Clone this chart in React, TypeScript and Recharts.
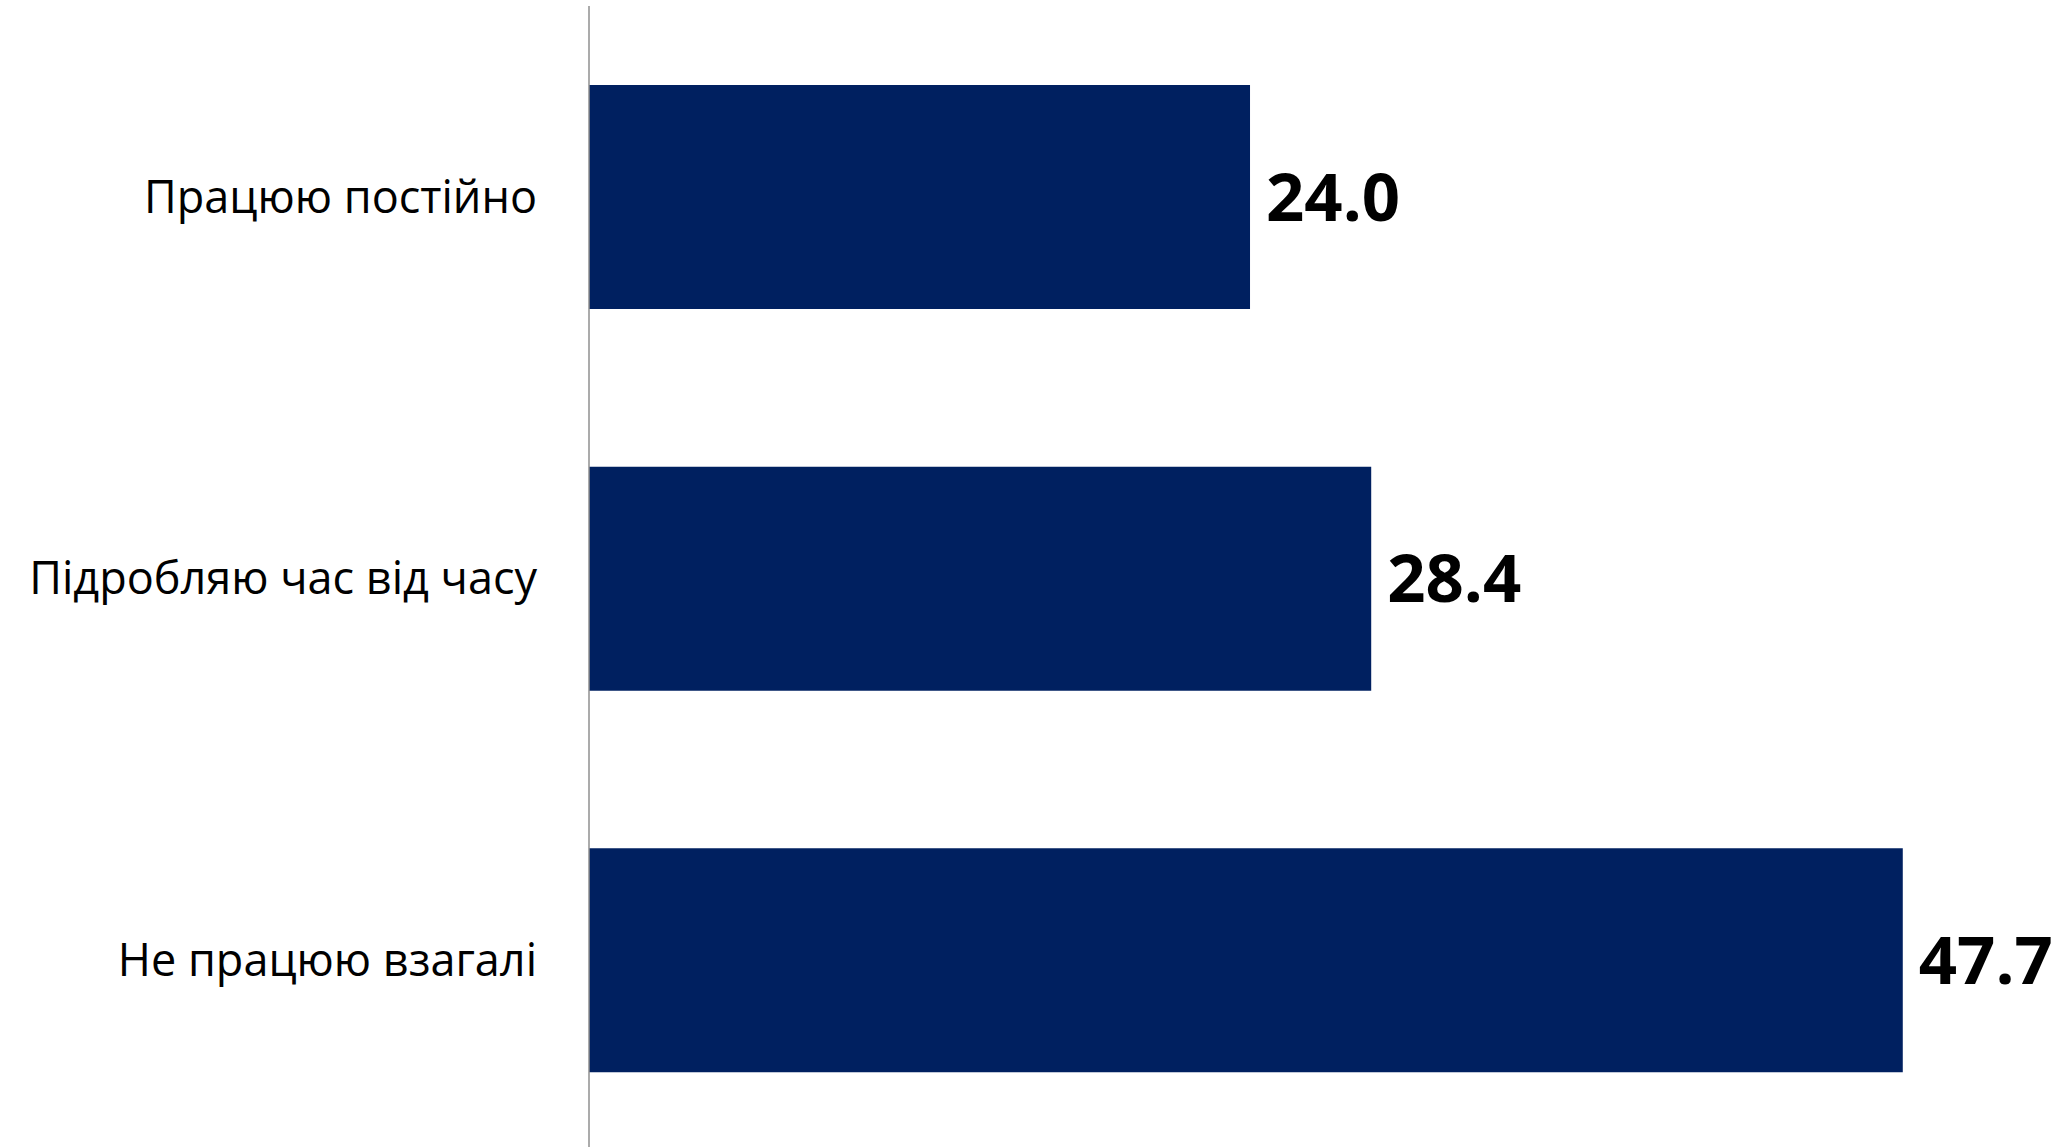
import React from 'react';
import { BarChart, Bar, XAxis, YAxis, LabelList } from 'recharts';

const categories = ['Працюю постійно', 'Підробляю час від часу', 'Не працюю взагалі'];
const shares = [24.0, 28.4, 47.7];

const data = categories.map((name, i) => ({ name, value: shares[i] }));

export default function App() {
  return (
    <div style={{ position: 'fixed', left: 0, top: 0, width: 2056, height: 1147, overflow: 'hidden', background: '#fff' }}>
      <BarChart
        width={2056}
        height={1160}
        data={data}
        layout="vertical"
        margin={{ top: 6, right: 94, bottom: 9, left: 0 }}
        barCategoryGap="20.7%"
      >
        <XAxis type="number" domain={[0, 49.85]} hide />
        <YAxis
          type="category"
          dataKey="name"
          width={589}
          tickLine={false}
          tickSize={0}
          tickMargin={52}
          axisLine={{ stroke: '#8f8f8f', strokeWidth: 1.5 }}
          tick={{ fill: '#000', fontSize: 45, fontFamily: '"Open Sans", sans-serif' }}
        />
        <Bar dataKey="value" fill="#002060" isAnimationActive={false}>
          <LabelList
            dataKey="value"
            position="right"
            offset={16}
            formatter={(v: number) => v.toFixed(1)}
            style={{ fill: '#000', fontSize: 67, fontWeight: 700, fontFamily: '"Open Sans", sans-serif' }}
          />
        </Bar>
      </BarChart>
    </div>
  );
}
